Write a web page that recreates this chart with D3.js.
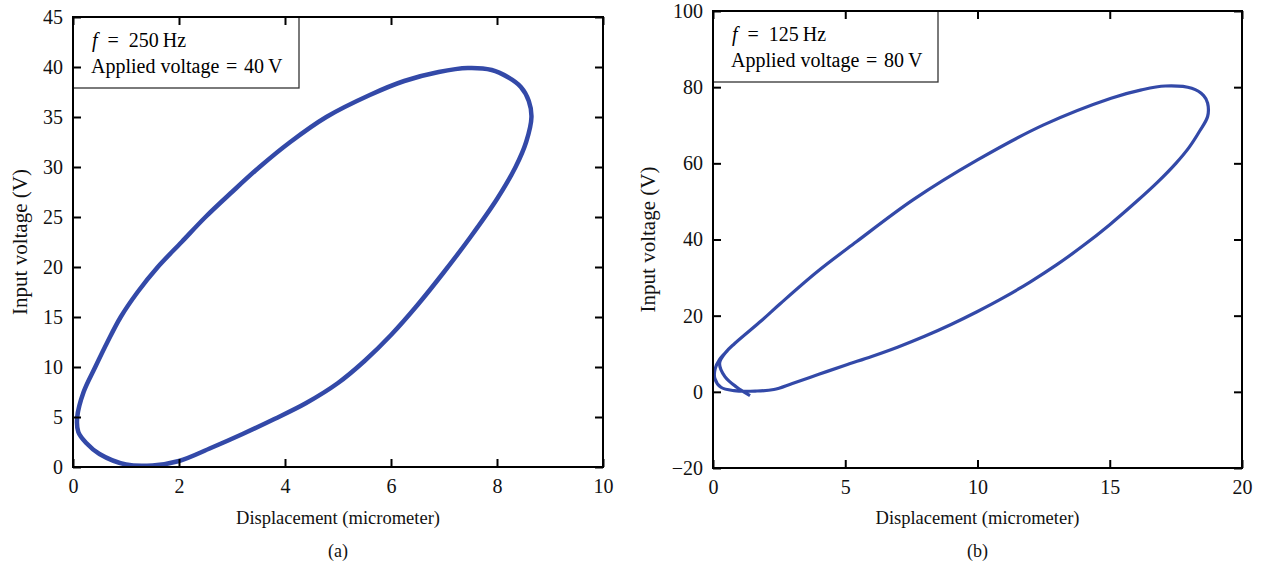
<!DOCTYPE html>
<html>
<head>
<meta charset="utf-8">
<script src="https://cdn.jsdelivr.net/npm/d3@7"></script>
<style>
  body { margin: 0; background: #fff; }
  svg { display: block; }
</style>
</head>
<body>
<script>
// panel (a): f = 250 Hz, 40 V  -- [displacement, voltage]
const loopA = [
  [1.5, 0.15], [2.0, 0.6], [2.6, 1.9], [3.2, 3.3], [3.8, 4.8], [4.4, 6.4], [5.0, 8.4],
  [5.5, 10.6], [6.0, 13.2], [6.5, 16.2], [7.0, 19.5], [7.5, 23.0], [8.0, 26.8],
  [8.35, 30.0], [8.55, 32.5], [8.65, 35.0], [8.6, 36.6], [8.45, 38.0], [8.2, 39.0],
  [7.9, 39.7], [7.45, 39.9], [6.9, 39.5], [6.25, 38.6], [5.6, 37.2], [4.78, 35.0],
  [4.1, 32.5], [3.52, 30.0], [3.0, 27.5], [2.5, 25.0], [2.05, 22.5], [1.6, 20.0],
  [1.22, 17.5], [0.9, 15.0], [0.65, 12.5], [0.42, 10.0], [0.2, 7.5], [0.08, 5.0],
  [0.1, 3.5], [0.25, 2.4], [0.5, 1.3], [1.0, 0.25]
];
// panel (b): f = 125 Hz, 80 V
const loopB = [
  [1.4, -1.0], [0.9, 1.2], [0.45, 4.0], [0.25, 7.5], [0.5, 10.5], [0.82, 12.7],
  [1.85, 18.8], [2.55, 23.2], [3.95, 31.6], [5.42, 39.4], [7.56, 50.4], [10.0, 60.9],
  [12.5, 70.1], [15.05, 77.1], [16.2, 79.3], [17.1, 80.3], [18.1, 79.7], [18.55, 77.8],
  [18.7, 75.8], [18.7, 72.3], [18.4, 68.5], [18.0, 64.2], [17.5, 60.0], [16.8, 55.0],
  [16.0, 49.9], [15.0, 43.9], [14.0, 38.4], [13.0, 33.4], [12.0, 28.9], [11.0, 24.8],
  [10.0, 21.1], [9.0, 17.7], [8.0, 14.6], [7.0, 11.8], [6.0, 9.3], [5.0, 7.0],
  [4.0, 4.6], [3.0, 2.2], [2.3, 0.6], [1.6, 0.2], [0.8, 0.3], [0.3, 1.2], [0.07, 3.5],
  [0.08, 6.0], [0.25, 8.5], [0.55, 10.8]
];

const xTicksA = [0, 2, 4, 6, 8, 10];
const yTicksA = [0, 5, 10, 15, 20, 25, 30, 35, 40, 45];
const xTicksB = [0, 5, 10, 15, 20];
const yTicksB = [-20, 0, 20, 40, 60, 80, 100];

const legendA = ["250", "40"];
const legendB = ["125", "80"];

const width = 1261, height = 573;
const font = "'Liberation Serif', 'DejaVu Serif', serif";
const blue = "#3349a8";

const svg = d3.select("body").append("svg")
  .attr("width", width)
  .attr("height", height)
  .attr("font-family", font);

function panel(o) {
  const x = d3.scaleLinear().domain(o.xDomain).range([o.left, o.right]);
  const y = d3.scaleLinear().domain(o.yDomain).range([o.bottom, o.top]);
  const g = svg.append("g");

  // curve
  const line = d3.line()
    .x(d => x(d[0]))
    .y(d => y(d[1]))
    .curve(o.closed ? d3.curveCatmullRomClosed : d3.curveCatmullRom);
  g.append("path")
    .datum(o.data)
    .attr("d", line)
    .attr("fill", "none")
    .attr("stroke", blue)
    .attr("stroke-width", o.sw)
    .attr("stroke-linejoin", "round");

  // legend box
  g.append("rect")
    .attr("x", o.left)
    .attr("y", o.top)
    .attr("width", o.legW)
    .attr("height", o.legH)
    .attr("fill", "#fff")
    .attr("stroke", "#333")
    .attr("stroke-width", 1.3);
  const t1 = g.append("text")
    .attr("x", o.left + 19)
    .attr("y", o.top + 30)
    .attr("font-size", 20);
  t1.append("tspan").attr("font-style", "italic").text("f");
  t1.append("tspan").text("\u2002=\u2002" + o.legend[0] + "\u2009Hz");
  g.append("text")
    .attr("x", o.left + 18)
    .attr("y", o.top + 56)
    .attr("font-size", 20)
    .text("Applied voltage\u2004=\u2004" + o.legend[1] + "\u2009V");

  // axes (ticks inward)
  const fmt = d => d < 0 ? "\u2212" + Math.abs(d) : d;
  const ax = [
    [d3.axisBottom(x).tickValues(o.xTicks).tickFormat(fmt).tickPadding(12), `translate(0,${o.bottom})`],
    [d3.axisLeft(y).tickValues(o.yTicks).tickFormat(fmt).tickPadding(10), `translate(${o.left},0)`],
    [d3.axisTop(x).tickValues(o.xTicks).tickFormat(""), `translate(0,${o.top})`],
    [d3.axisRight(y).tickValues(o.yTicks).tickFormat(""), `translate(${o.right},0)`]
  ];
  ax.forEach(([a, tr]) => {
    const s = g.append("g").attr("transform", tr)
      .call(a.tickSizeInner(-8).tickSizeOuter(0));
    s.select(".domain").remove();
    s.selectAll("line").attr("stroke", "#000").attr("stroke-width", 2);
    s.selectAll("text")
      .attr("font-family", font)
      .attr("font-size", 20)
      .attr("fill", "#111");
  });

  // frame
  g.append("rect")
    .attr("x", o.left)
    .attr("y", o.top)
    .attr("width", o.right - o.left)
    .attr("height", o.bottom - o.top)
    .attr("fill", "none")
    .attr("stroke", "#000")
    .attr("stroke-width", 2);

  const cx = (o.left + o.right) / 2;
  g.append("text")
    .attr("x", cx)
    .attr("y", 524)
    .attr("text-anchor", "middle")
    .attr("font-size", 18.5)
    .attr("fill", "#111")
    .text("Displacement (micrometer)");
  g.append("text")
    .attr("transform", `translate(${o.ylabX},${(o.top + o.bottom) / 2}) rotate(-90)`)
    .attr("text-anchor", "middle")
    .attr("font-size", 21)
    .attr("fill", "#111")
    .text("Input voltage (V)");
  g.append("text")
    .attr("x", cx)
    .attr("y", 557)
    .attr("text-anchor", "middle")
    .attr("font-size", 18)
    .attr("fill", "#111")
    .text(o.tag);
}

panel({
  data: loopA, closed: true, sw: 4.5,
  xDomain: [0, 10], yDomain: [0, 45],
  xTicks: xTicksA, yTicks: yTicksA,
  left: 73, right: 603, top: 17, bottom: 467,
  legW: 226, legH: 71, legend: legendA,
  ylabX: 27, tag: "(a)"
});

panel({
  data: loopB, closed: false, sw: 3.2,
  xDomain: [0, 20], yDomain: [-20, 100],
  xTicks: xTicksB, yTicks: yTicksB,
  left: 713, right: 1242, top: 11, bottom: 468,
  legW: 225, legH: 71, legend: legendB,
  ylabX: 655, tag: "(b)"
});
</script>
</body>
</html>
